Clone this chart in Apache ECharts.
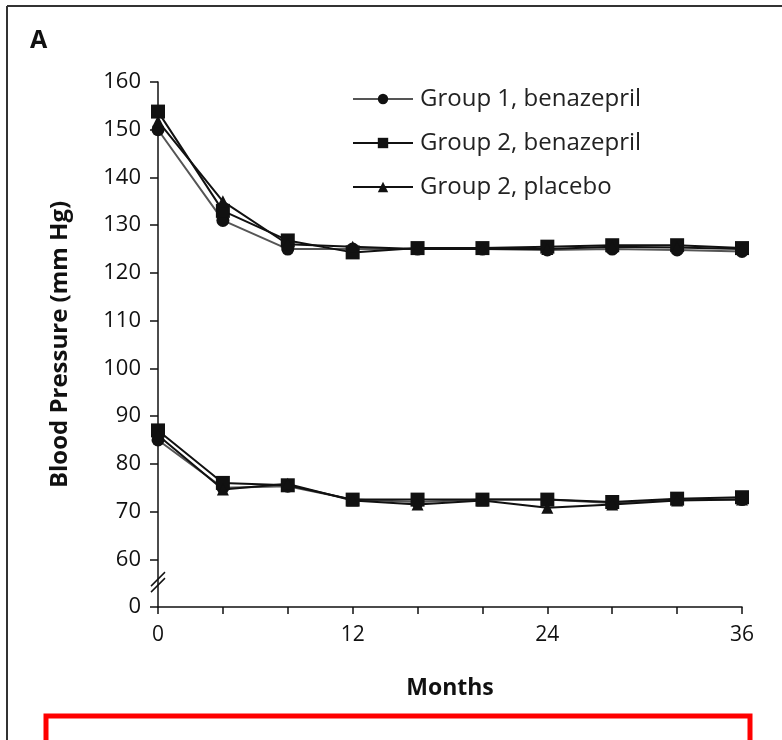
<!DOCTYPE html>
<html>
<head>
<meta charset="utf-8">
<script src="https://cdn.jsdelivr.net/npm/echarts@6/dist/echarts.min.js"></script>
<style>
  html, body { margin: 0; padding: 0; background: #fff; }
  #chart { width: 782px; height: 740px; }
</style>
</head>
<body>
<div id="chart"></div>
<script>
// Follow-up months
const months = [0, 4, 8, 12, 16, 20, 24, 28, 32, 36];

// Systolic blood pressure (mm Hg)
const g1BenazeprilSys = [150, 131, 125, 125, 125, 125, 124.8, 125, 124.8, 124.5];
const g2BenazeprilSys = [153.8, 133, 126.8, 124.3, 125.2, 125.2, 125.5, 125.8, 125.8, 125.2];
const g2PlaceboSys = [151.8, 135, 126, 125.5, 125, 125, 125, 125.5, 125.3, 125];

// Diastolic blood pressure (mm Hg)
const g1BenazeprilDia = [85, 75, 75.3, 72.5, 72, 72.5, 72.5, 71.8, 72.5, 72.5];
const g2BenazeprilDia = [87, 76, 75.5, 72.5, 72.5, 72.5, 72.5, 72, 72.7, 73];
const g2PlaceboDia = [86, 74.6, 75.8, 72.3, 71.5, 72.3, 70.8, 71.5, 72.3, 72.5];

const seriesNames = ['Group 1, benazepril', 'Group 2, benazepril', 'Group 2, placebo'];
const xTickLabels = ['0', '12', '24', '36'];

// The axis is broken below 60; its lowest tick stands for 0
const axisFloor = 50;

const FONT = 'Open Sans';

function pairs(values) {
  return months.map((m, i) => [m, values[i]]);
}

const styles = [
  { symbol: 'circle', size: 13, color: '#111', line: '#555' },
  { symbol: 'rect', size: 14, color: '#111', line: '#111' },
  { symbol: 'triangle', size: 12, color: '#111', line: '#111' }
];

function makeSeries(name, values, st) {
  return {
    name: name,
    type: 'line',
    data: pairs(values),
    symbol: st.symbol,
    symbolSize: st.size,
    itemStyle: { color: st.color },
    lineStyle: { color: st.line, width: 2 },
    emphasis: { disabled: true },
    animation: false
  };
}

const chart = echarts.init(document.getElementById('chart'));

const option = {
  backgroundColor: '#fff',
  animation: false,
  grid: { left: 158, right: 40, top: 82, bottom: 133 },
  legend: {
    data: seriesNames,
    orient: 'vertical',
    left: 347,
    top: 82,
    itemWidth: 60,
    itemHeight: 13,
    itemGap: 20,
    textStyle: { fontFamily: FONT, fontSize: 24, color: '#222', padding: [0, 0, 0, 2] }
  },
  xAxis: {
    type: 'value',
    min: 0,
    max: 36,
    interval: 4,
    name: 'Months',
    nameLocation: 'middle',
    nameGap: 70,
    nameTextStyle: { fontFamily: FONT, fontSize: 23, fontWeight: 'bold', color: '#111' },
    axisLine: { lineStyle: { color: '#111', width: 1.5 } },
    axisTick: { length: 7, lineStyle: { color: '#111', width: 1.5 } },
    axisLabel: {
      fontFamily: FONT, fontSize: 21, color: '#111', margin: 18,
      formatter: v => (xTickLabels.indexOf(String(v)) >= 0 ? String(v) : '')
    },
    splitLine: { show: false }
  },
  yAxis: {
    type: 'value',
    min: axisFloor,
    max: 160,
    interval: 10,
    name: 'Blood Pressure (mm Hg)',
    nameLocation: 'middle',
    nameGap: 86,
    nameRotate: 90,
    nameTextStyle: { fontFamily: FONT, fontSize: 24, fontWeight: 'bold', color: '#111' },
    axisLine: { show: true, lineStyle: { color: '#111', width: 1.5 } },
    axisTick: { show: true, length: 8, lineStyle: { color: '#111', width: 1.5 } },
    axisLabel: {
      fontFamily: FONT, fontSize: 22, color: '#111', margin: 17,
      formatter: v => (v === axisFloor ? '0' : String(v))
    },
    splitLine: { show: false }
  },
  series: [
    makeSeries(seriesNames[0], g1BenazeprilSys, styles[0]),
    makeSeries(seriesNames[1], g2BenazeprilSys, styles[1]),
    makeSeries(seriesNames[2], g2PlaceboSys, styles[2]),
    makeSeries(seriesNames[0], g1BenazeprilDia, styles[0]),
    makeSeries(seriesNames[1], g2BenazeprilDia, styles[1]),
    makeSeries(seriesNames[2], g2PlaceboDia, styles[2])
  ]
};

chart.setOption(option);

// Panel frame, panel letter, axis-break marks and the red callout box
const p60 = chart.convertToPixel({ gridIndex: 0 }, [0, 60]);
const pFloor = chart.convertToPixel({ gridIndex: 0 }, [0, axisFloor]);
const breakY = (p60[1] + pFloor[1]) / 2;
const bx = p60[0];

chart.setOption({
  graphic: [
    { type: 'line', shape: { x1: 7, y1: 6, x2: 782, y2: 6 }, style: { stroke: '#333', lineWidth: 2 } },
    { type: 'line', shape: { x1: 7, y1: 6, x2: 7, y2: 740 }, style: { stroke: '#333', lineWidth: 2 } },
    { type: 'text', left: 30, top: 28, style: { text: 'A', font: 'bold 25px "Open Sans"', fill: '#111' } },
    { type: 'rect', shape: { x: bx - 6, y: breakY - 6, width: 12, height: 10 }, style: { fill: '#fff' } },
    { type: 'line', shape: { x1: bx - 7, y1: breakY + 3, x2: bx + 7, y2: breakY - 11 }, style: { stroke: '#111', lineWidth: 1.5 } },
    { type: 'line', shape: { x1: bx - 7, y1: breakY + 9, x2: bx + 7, y2: breakY - 5 }, style: { stroke: '#111', lineWidth: 1.5 } },
    { type: 'rect', shape: { x: 46, y: 716, width: 704, height: 60 }, style: { fill: 'none', stroke: '#ff0000', lineWidth: 5 } }
  ]
});
</script>
</body>
</html>
